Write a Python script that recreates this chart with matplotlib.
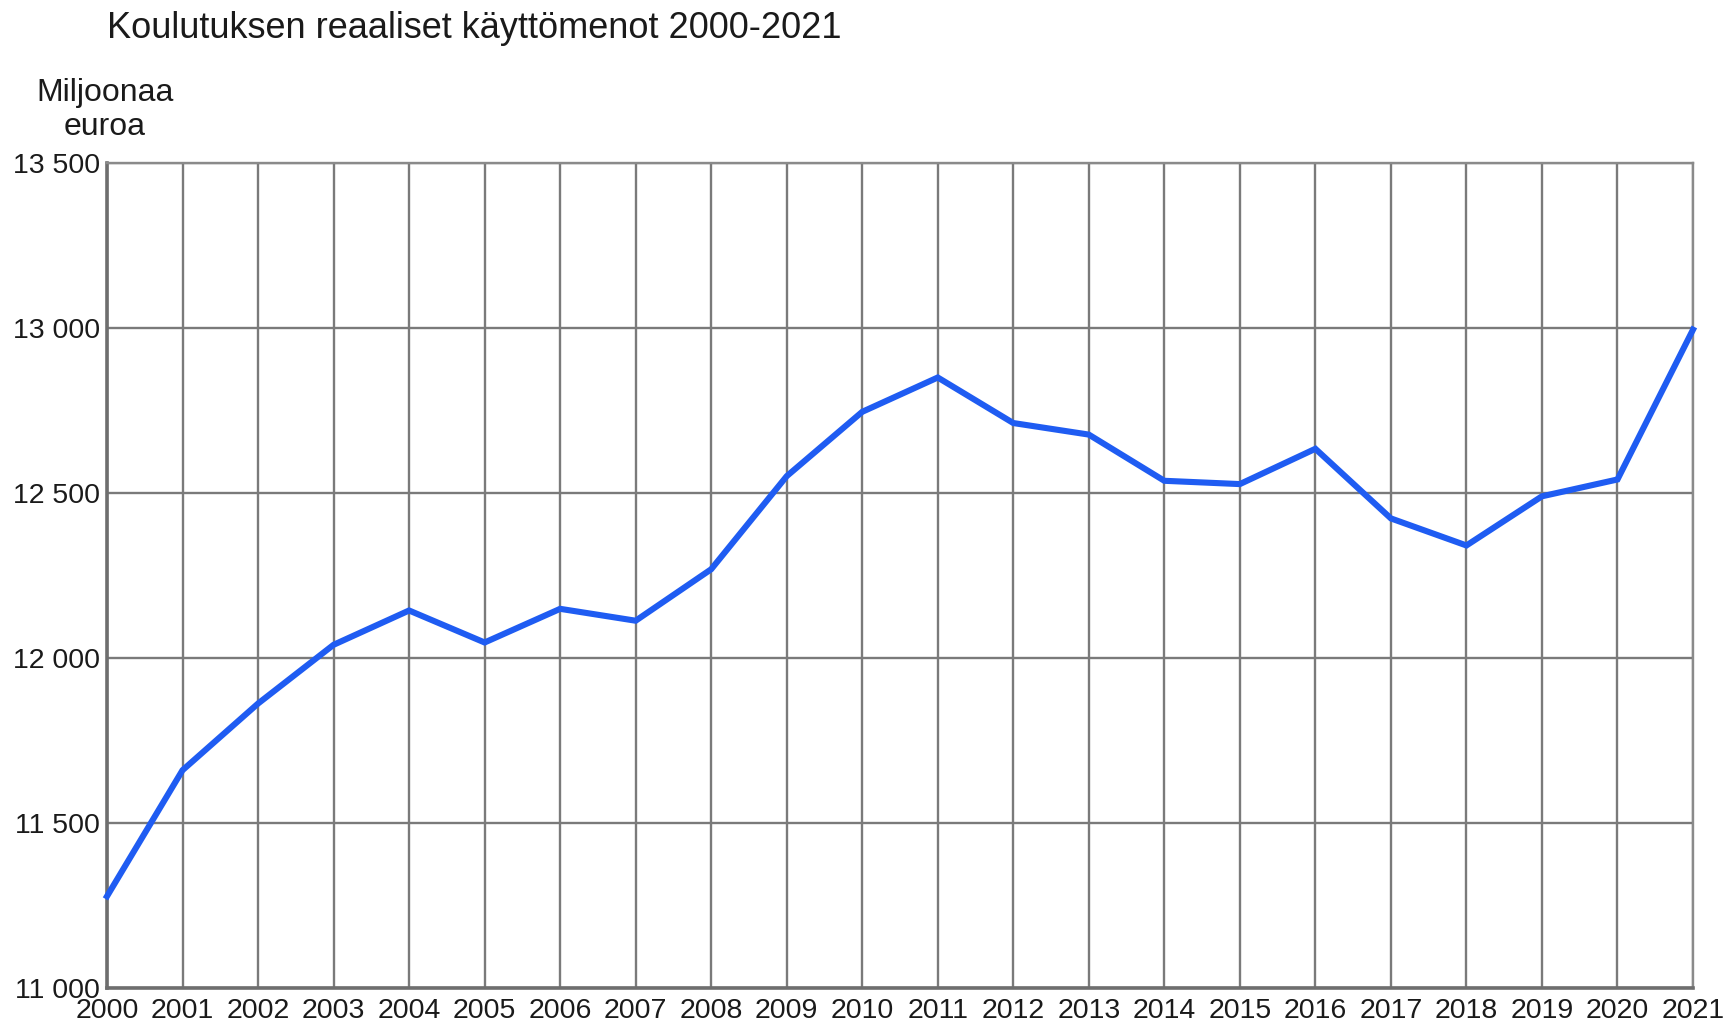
import matplotlib

matplotlib.use('Agg')

from matplotlib import pyplot as plt
from matplotlib.ticker import FuncFormatter

# Koulutuksen reaaliset käyttömenot, milj. euroa
years = [2000, 2001, 2002, 2003, 2004, 2005, 2006, 2007, 2008, 2009, 2010,
         2011, 2012, 2013, 2014, 2015, 2016, 2017, 2018, 2019, 2020, 2021]
values = [11278, 11660, 11862, 12040, 12144, 12047, 12149, 12113, 12269, 12551, 12746,
          12850, 12712, 12677, 12537, 12527, 12634, 12423, 12341, 12490, 12541, 12995]
y_ticks = [11000, 11500, 12000, 12500, 13000, 13500]

W, H = 1723, 1025
plt.rcParams['font.family'] = ['Liberation Sans', 'DejaVu Sans']


def space_thousands(v, pos):
  return '{:,.0f}'.format(v).replace(',', ' ')


def main():
  fig = plt.figure(figsize=(W / 100, H / 100), dpi=100)
  ax = fig.add_axes([107 / W, 1 - 988 / H, (1693 - 107) / W, (988 - 163) / H])

  ax.plot(years, values, color='#1f5cf2', linewidth=4.4, solid_joinstyle='miter', zorder=3,
          clip_on=False)

  ax.set_xlim(years[0], years[-1])
  ax.set_ylim(y_ticks[0], y_ticks[-1])
  ax.set_xticks(years)
  ax.set_xticklabels([str(y) for y in years])
  ax.set_yticks(y_ticks)
  ax.yaxis.set_major_formatter(FuncFormatter(space_thousands))
  ax.tick_params(axis='both', length=0, labelsize=20.5, colors='#1a1a1a')
  ax.tick_params(axis='y', pad=5)
  ax.tick_params(axis='x', pad=7)

  ax.grid(True, color='#7a7a7a', linewidth=1.7)
  ax.set_axisbelow(True)
  for side in ['top', 'right']:
    ax.spines[side].set_color('#8a8a8a')
    ax.spines[side].set_linewidth(1.7)
  for side in ['left', 'bottom']:
    ax.spines[side].set_color('#6e6e6e')
    ax.spines[side].set_linewidth(2.6)

  fig.text(107 / W, 1 - 28 / H, 'Koulutuksen reaaliset käyttömenot 2000-2021',
           fontsize=26, ha='left', va='center', color='#1a1a1a')
  fig.text(105 / W, 1 - 93 / H, 'Miljoonaa', fontsize=23, ha='center', va='center',
           color='#1a1a1a')
  fig.text(105 / W, 1 - 127 / H, 'euroa', fontsize=23, ha='center', va='center',
           color='#1a1a1a')

  fig.savefig('out.png', dpi=100, facecolor='white')


if __name__ == '__main__':
  main()
